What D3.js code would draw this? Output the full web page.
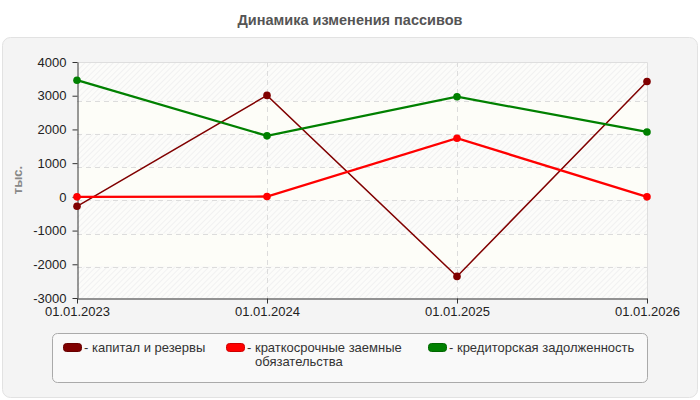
<!DOCTYPE html>
<html><head><meta charset="utf-8">
<script src="https://cdn.jsdelivr.net/npm/d3@7"></script>
<style>body{margin:0;background:#fff;}svg{display:block;font-family:"Liberation Sans",Arial,sans-serif;}</style>
</head><body><svg id="c" width="700" height="400"></svg>
<script>
const categories = ["01.01.2023","01.01.2024","01.01.2025","01.01.2026"];
const capital = [-280, 3010, -2360, 3420];
const shortLoans = [0, 10, 1740, 0];
const payables = [3460, 1810, 2970, 1925];
const yTicks = [4000,3000,2000,1000,0,-1000,-2000,-3000];
const seriesNames = ["капитал и резервы","краткосрочные заемные обязательства","кредиторская задолженность"];
const seriesColors = ["#800000","#ff0000","#008000"];

const svg = d3.select("#c");
const L=77,R=647,T=62,B=298;
const x = d3.scalePoint().domain(categories).range([L,R]);
const y = d3.scaleLinear().domain([-3000,4000]).range([B,T]);
const gy = d3.scaleLinear().domain([-3000,4000]).range([300,67.4]);

const defs = svg.append("defs");
const pat = defs.append("pattern").attr("id","hatch").attr("patternUnits","userSpaceOnUse")
  .attr("width",4).attr("height",4).attr("patternTransform","rotate(45)");
pat.append("rect").attr("width",4).attr("height",4).attr("fill","#fcfcfa");
pat.append("line").attr("x1",0).attr("y1",0).attr("x2",0).attr("y2",4).attr("stroke","#ebebeb").attr("stroke-width",1.2);

// panel
svg.append("rect").attr("x",2.5).attr("y",37.5).attr("width",695).attr("height",360).attr("rx",8)
  .attr("fill","#f4f4f4").attr("stroke","#e2e2e2");

svg.append("text").attr("x",350).attr("y",25).attr("text-anchor","middle")
  .attr("font-size",14.5).attr("font-weight","bold").attr("fill","#555").text("Динамика изменения пассивов");

// bands
const bounds = [T, ...yTicks.slice(1,-1).map(v=>gy(v)), B];
for(let i=0;i<bounds.length-1;i++){
  svg.append("rect").attr("x",L).attr("y",bounds[i]).attr("width",R-L).attr("height",bounds[i+1]-bounds[i])
    .attr("fill", i%2===0 ? "url(#hatch)" : "#fdfdf8");
}
// grid
svg.append("g").selectAll("line").data(yTicks.slice(1,-1)).join("line")
  .attr("x1",L).attr("x2",R).attr("y1",d=>Math.round(gy(d))+0.5).attr("y2",d=>Math.round(gy(d))+0.5)
  .attr("stroke","#dcdcdc").attr("stroke-dasharray","5,4");
svg.append("g").selectAll("line").data(categories.slice(1,-1)).join("line")
  .attr("x1",d=>Math.round(x(d))+0.5).attr("x2",d=>Math.round(x(d))+0.5).attr("y1",T).attr("y2",B)
  .attr("stroke","#dcdcdc").attr("stroke-dasharray","5,4");
// border top/right
svg.append("path").attr("d",`M${L},${T+0.5}H${R+0.5}V${B}`).attr("fill","none").attr("stroke","#dedede");

// axes
const ya = svg.append("g").attr("transform",`translate(${L+0.5},0)`)
  .call(d3.axisLeft(y).tickValues(yTicks).tickFormat(d=>String(d)).tickSize(5).tickPadding(6).tickSizeOuter(0));
const xa = svg.append("g").attr("transform",`translate(0,${B+0.5})`)
  .call(d3.axisBottom(x).tickSize(5).tickPadding(3).tickSizeOuter(0));
[ya,xa].forEach(a=>{
  a.select(".domain").attr("stroke","#333");
  a.selectAll(".tick line").attr("stroke","#333");
  a.selectAll("text").attr("font-size",13).attr("fill","#222").attr("font-family","Liberation Sans, Arial, sans-serif");
});

svg.append("text").attr("transform","translate(22,180) rotate(-90)").attr("text-anchor","middle")
  .attr("font-size",13).attr("font-weight","bold").attr("fill","#888").text("тыс.");

// series
const data = [capital, shortLoans, payables];
const widths = [1.5, 2.3, 2.3];
const line = d3.line().x((d,i)=>x(categories[i])).y(d=>y(d));
data.forEach((s,k)=>{
  svg.append("path").datum(s).attr("d",line).attr("fill","none")
    .attr("stroke",seriesColors[k]).attr("stroke-width",widths[k]);
});
data.forEach((s,k)=>{
  svg.append("g").selectAll("circle").data(s).join("circle")
    .attr("cx",(d,i)=>x(categories[i])).attr("cy",d=>y(d)).attr("r",3.8).attr("fill",seriesColors[k]);
});

// legend
svg.append("rect").attr("x",52.5).attr("y",333.5).attr("width",595).attr("height",49).attr("rx",5)
  .attr("fill","#f9f9f9").attr("stroke","#aaa");
const legX = [63, 226, 428];
const lines = [["капитал и резервы"],["краткосрочные заемные","обязательства"],["кредиторская задолженность"]];
seriesNames.forEach((n,k)=>{
  const g = svg.append("g");
  g.append("rect").attr("x",legX[k]+0.5).attr("y",343.5).attr("width",18).attr("height",8).attr("rx",3)
    .attr("fill",seriesColors[k]).attr("stroke",d3.color(seriesColors[k]).darker(0.6)).attr("stroke-width",1);
  const t = g.append("text").attr("x",legX[k]+21).attr("y",352).attr("font-size",13).attr("fill","#333");
  t.append("tspan").text("- "+lines[k][0]);
  if(lines[k][1]) t.append("tspan").attr("x",legX[k]+29).attr("dy",14).text(lines[k][1]);
});
</script></body></html>
